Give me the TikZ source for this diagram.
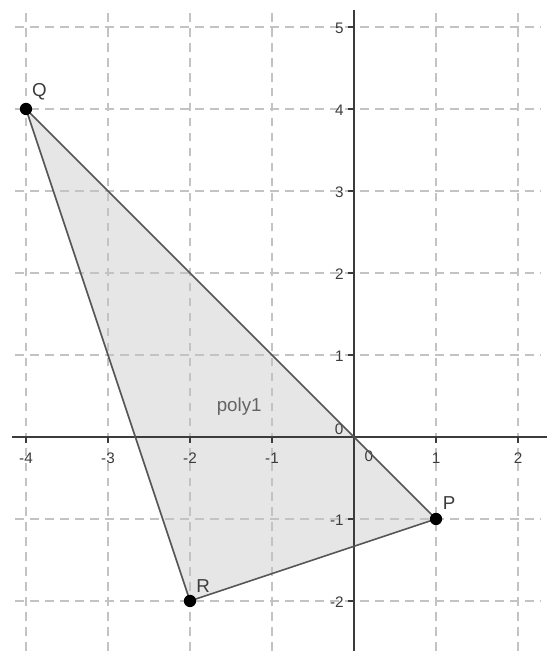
\documentclass[tikz,border=0pt]{standalone}
\usepackage{fontspec}
\setmainfont{Liberation Sans}
\usepackage{tikz}
\usetikzlibrary{positioning}

\definecolor{gridgray}{RGB}{195,195,195}
\definecolor{axisgray}{RGB}{60,60,60}
\definecolor{edgegray}{RGB}{85,85,85}
\definecolor{polyfill}{RGB}{230,230,230}
\definecolor{labelgray}{RGB}{60,60,60}

\begin{document}
\begin{tikzpicture}[x=1cm,y=1cm,
	gridline/.style={gridgray,line width=0.45pt,dash pattern=on 3pt off 2.2pt},
	axisline/.style={axisgray,line width=0.65pt},
	ticklabel/.style={text=labelgray,font=\fontsize{5.3}{6}\selectfont,inner sep=0pt},
	ptlabel/.style={text=labelgray,font=\fontsize{6.5}{7.5}\selectfont,inner sep=0pt},
	ptdot/.style={circle,fill=black,inner sep=0pt,minimum size=0.15cm}]
			
			\useasboundingbox (-4.317,-2.61) rectangle (2.451,5.329);
			
			% Points
			\coordinate (Q) at (-4,4);
			\coordinate (P) at (1,-1);
			\coordinate (R) at (-2,-2);
			
			% Polygon fill
			\fill[polyfill] (Q) -- (P) -- (R) -- cycle;
			
			% Grid
			\foreach \x in {-4,-3,-2,-1,1,2}
				\draw[gridline] (\x,-2.61) -- (\x,5.21);
			\foreach \y in {-2,-1,1,2,3,4,5}
				\draw[gridline] (-4.13,\y) -- (2.27,\y);
			
			% Axes
			\coordinate (xa) at (-4.17,0);
			\coordinate (xb) at (2.35,0);
			\coordinate (ya) at (0,-2.61);
			\coordinate (yb) at (0,5.21);
			\draw[axisline] (xa) -- (xb);
			\draw[axisline] (ya) -- (yb);
			
			% Ticks & labels
			\foreach \x in {-4,-3,-2,-1,1,2} {
				\draw[axisline,line width=0.5pt] (\x,0) -- (\x,-0.07);
				\node[ticklabel] (xl\x) at (\x,-0.26) {\x};
			}
			\foreach \y in {-2,-1,1,2,3,4,5} {
				\draw[axisline,line width=0.5pt] (0,\y) -- (-0.07,\y);
				\node[ticklabel,anchor=east] (yl\y) at (-0.12,\y-0.02) {\y};
			}
			\node[ticklabel] (xl0) at (0.18,-0.24) {0};
			\node[ticklabel] (yl0) at (-0.18,0.10) {0};
			
			% Triangle sides
			\draw[edgegray,line width=0.55pt,line join=round] (Q) -- (P) -- (R) -- cycle;
			
			% Vertices
			\node[ptdot] (q) at (Q) {};
			\node[ptdot] (p) at (P) {};
			\node[ptdot] (r) at (R) {};
			
			\node[ptlabel] (qlab) at (-3.835,4.21) {Q};
			\node[ptlabel] (plab) at (1.16,-0.81) {P};
			\node[ptlabel] (rlab) at (-1.84,-1.82) {R};
			\node[ptlabel,anchor=base,text=labelgray!80] (polylab) at (-1.40,0.31) {poly1};
			
		\end{tikzpicture}
\end{document}
